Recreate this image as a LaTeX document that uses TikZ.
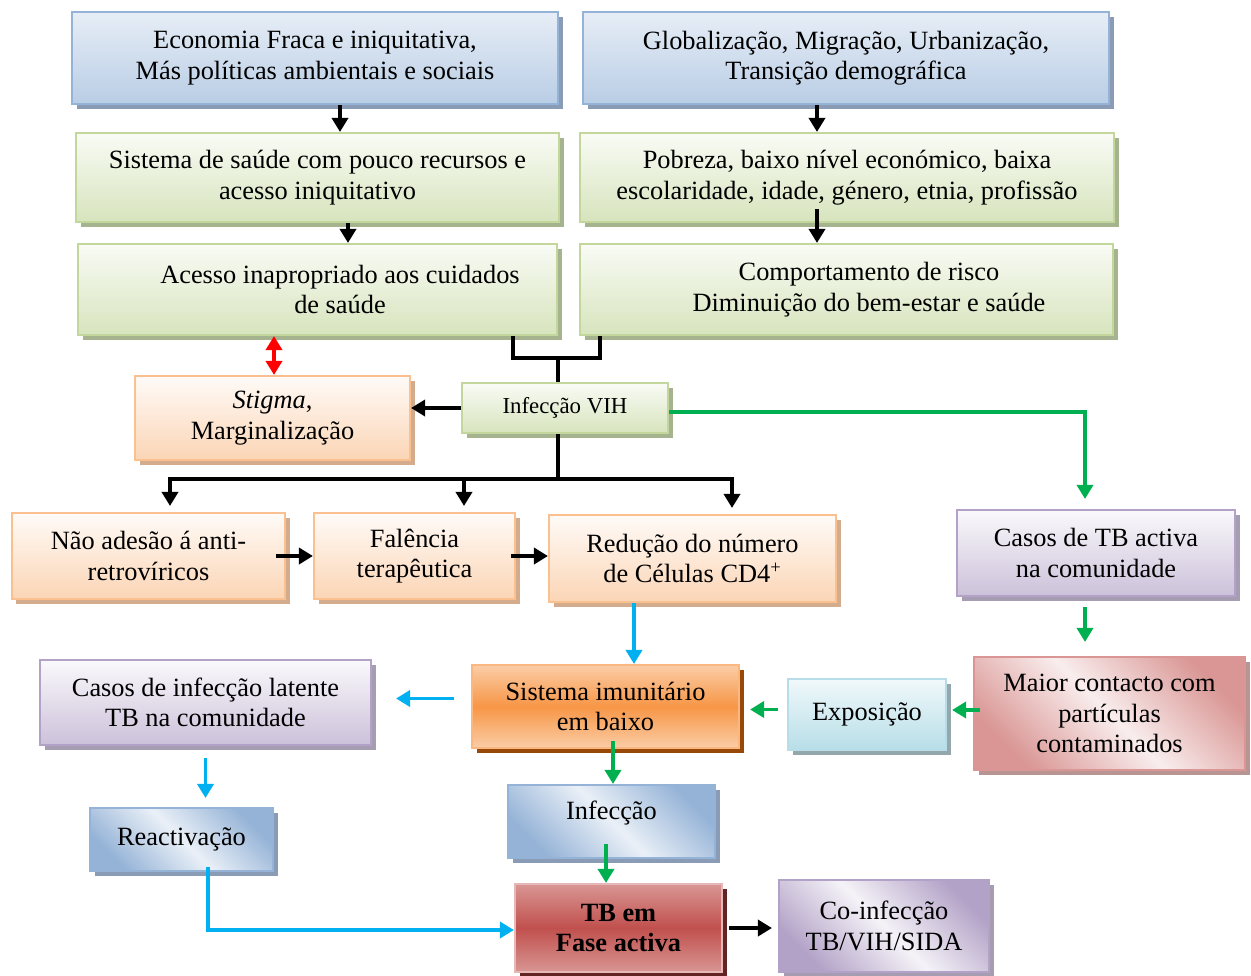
\documentclass[tikz,border=0pt]{standalone}
\usepackage{fontspec}
\setmainfont{Liberation Serif}
\usepackage{tikz}
\usetikzlibrary{arrows.meta,shadows,calc}

\definecolor{bluF}{HTML}{B9CDE5}
\definecolor{bluD}{HTML}{95B3D7}
\definecolor{bluS}{HTML}{8A9CB5}
\definecolor{greF}{HTML}{D7E4BD}
\definecolor{greD}{HTML}{C3D69B}
\definecolor{greS}{HTML}{A5B48E}
\definecolor{oraF}{HTML}{FBD5B5}
\definecolor{oraD}{HTML}{FAC090}
\definecolor{oraS}{HTML}{D2AC8C}
\definecolor{oraM}{HTML}{F79646}
\definecolor{oraB}{HTML}{984807}
\definecolor{purF}{HTML}{CCC1DA}
\definecolor{purD}{HTML}{B3A2C7}
\definecolor{purS}{HTML}{A69DB2}
\definecolor{pnkF}{HTML}{E6B9B8}
\definecolor{pnkD}{HTML}{D99694}
\definecolor{pnkS}{HTML}{B89493}
\definecolor{cyaF}{HTML}{B7DEE8}
\definecolor{cyaS}{HTML}{93A7AD}
\definecolor{redM}{HTML}{C0504D}
\definecolor{redB}{HTML}{632523}
\definecolor{arG}{HTML}{00B050}
\definecolor{arC}{HTML}{00B0F0}

\tikzset{
  box/.style={draw, line width=1.2pt, align=center, inner sep=2pt,
    font=\fontsize{15}{17.3}\selectfont},
  shad/.style={drop shadow={shadow xshift=.09cm, shadow yshift=-.09cm, fill=#1, opacity=1}},
  bluebox/.style={box, draw=bluD, top color=bluF!35!white, bottom color=bluF, shad=bluS},
  greenbox/.style={box, draw=greD, top color=greF!15!white, bottom color=greF, shad=greS},
  orangebox/.style={box, draw=oraD, top color=oraF!10!white, bottom color=oraF, shad=oraS},
  purplebox/.style={box, draw=purD, top color=purF!10!white, bottom color=purF, shad=purS},
  pinkbox/.style={box, draw=pnkD, left color=pnkD, right color=pnkD, middle color=pnkF!25!white,
    shading angle=135, shad=pnkS},
  cyanbox/.style={box, draw=cyaF, top color=cyaF!20!white, bottom color=cyaF, shad=cyaS},
  diagblue/.style={box, draw=bluD, left color=bluD, right color=bluD, middle color=bluF!30!white,
    shading angle=135, shad=bluS},
  diagpurple/.style={box, draw=purD, left color=purD, right color=purD, middle color=purF!20!white,
    shading angle=135, shad=purS},
  immunebox/.style={box, draw=oraD!80!oraM, top color=oraD!80!white, bottom color=oraD!80!white,
    middle color=oraM, shad=oraB},
  tbbox/.style={box, draw=pnkF, top color=pnkD, bottom color=pnkD, middle color=redM,
    shad=redB, font=\fontsize{15}{17.3}\selectfont\bfseries},
  tip/.style={-{Triangle[width=0.32cm,length=0.28cm]}},
  blk/.style={line width=2.2pt, black, tip},
  blkline/.style={line width=2.2pt, black},
  grn/.style={line width=2.2pt, arG, tip},
  cyn/.style={line width=2.2pt, arC, tip},
  redarrow/.style={line width=2.2pt, red, {Triangle[width=0.32cm,length=0.28cm]}-{Triangle[width=0.32cm,length=0.28cm]}},
}

\begin{document}
\begin{tikzpicture}
\useasboundingbox (0,0) rectangle (25.02,-19.5);

% causes
\node[bluebox, minimum width=9.72cm, minimum height=1.84cm] (eco) at (6.30,-1.16)
  {Economia Fraca e iniquitativa,\\ Más políticas ambientais e sociais};
\node[bluebox, minimum width=10.52cm, minimum height=1.84cm] (glob) at (16.92,-1.16)
  {Globalização, Migração, Urbanização,\\ Transição demográfica};
\node[greenbox, minimum width=9.66cm, minimum height=1.78cm] (sist) at (6.35,-3.55)
  {Sistema de saúde com pouco recursos e\\ acesso iniquitativo};
\node[greenbox, minimum width=10.68cm, minimum height=1.78cm] (pobr) at (16.94,-3.55)
  {Pobreza, baixo nível económico, baixa\\ escolaridade, idade, género, etnia, profissão};
\node[greenbox, minimum width=9.58cm, minimum height=1.82cm] (acesso) at (6.35,-5.79)
  {\hspace*{0.9cm}Acesso inapropriado aos cuidados\\ \hspace*{0.9cm}de saúde};
\node[greenbox, minimum width=10.66cm, minimum height=1.82cm] (comp) at (16.93,-5.79)
  {\hspace*{0.9cm}Comportamento de risco\\ \hspace*{0.9cm}Diminuição do bem-estar e saúde};

% VIH
\node[orangebox, minimum width=5.5cm, minimum height=1.68cm] (stigma) at (5.45,-8.36)
  {\textit{Stigma},\\ Marginalização};
\node[greenbox, minimum width=4.12cm, minimum height=1.0cm, font=\fontsize{13}{15}\selectfont] (infvih) at (11.30,-8.16)
  {Infecção VIH};
\node[orangebox, minimum width=5.46cm, minimum height=1.72cm] (nao) at (2.97,-11.12)
  {Não adesão á anti-\\ retrovíricos};
\node[orangebox, minimum width=4.02cm, minimum height=1.72cm] (fal) at (8.29,-11.12)
  {Falência\\ terapêutica};
\node[orangebox, minimum width=5.74cm, minimum height=1.74cm] (reduc) at (13.85,-11.17)
  {Redução do número\\ de Células CD4\textsuperscript{+}};

% TB
\node[purplebox, minimum width=5.56cm, minimum height=1.72cm] (casosTB) at (21.92,-11.06)
  {Casos de TB activa\\ na comunidade};
\node[pinkbox, minimum width=5.42cm, minimum height=2.26cm] (maior) at (22.19,-14.27)
  {Maior contacto com\\ partículas\\ contaminados};
\node[cyanbox, minimum width=3.16cm, minimum height=1.42cm] (expo) at (17.34,-14.29)
  {Exposição};
\node[immunebox, minimum width=5.34cm, minimum height=1.66cm] (sistim) at (12.11,-14.13)
  {Sistema imunitário\\ em baixo};
\node[purplebox, minimum width=6.62cm, minimum height=1.7cm] (latente) at (4.11,-14.05)
  {Casos de infecção latente\\ TB na comunidade};
\node[diagblue, minimum width=3.66cm, minimum height=1.26cm] (reac) at (3.63,-16.79)
  {Reactivação};
\node[diagblue, minimum width=4.14cm, minimum height=1.46cm, text depth=0.45cm] (infec) at (12.23,-16.43)
  {Infecção};
\node[tbbox, minimum width=4.14cm, minimum height=1.76cm] (tbem) at (12.37,-18.56)
  {TB em\\ Fase activa};
\node[diagpurple, minimum width=4.2cm, minimum height=1.84cm] (coinf) at (17.68,-18.52)
  {Co-infecção\\ TB/VIH/SIDA};

% black connectors
\draw[blk] ([xshift=0.5cm]eco.south) -- ([xshift=0.5cm]eco.south |- sist.north);
\draw[blk] ([xshift=-0.58cm]glob.south) -- ([xshift=-0.58cm]glob.south |- pobr.north);
\draw[blk] ([xshift=0.61cm]sist.south) -- ([xshift=0.61cm]sist.south |- acesso.north);
\draw[blk] ([xshift=-0.6cm,yshift=0.28cm]pobr.south) -- ([xshift=-0.6cm]pobr.south |- comp.north);
\coordinate (join) at (11.16,-7.16);
\draw[blkline] ([xshift=3.91cm]acesso.south) |- (join) -| ([xshift=-4.93cm]comp.south);
\draw[blkline] (join) -- (join |- infvih.north);
\draw[redarrow] ([xshift=-0.87cm]acesso.south) -- ([xshift=-0.87cm]acesso.south |- stigma.north);
\draw[blk] (infvih.west) -- (infvih.west -| stigma.east);
\coordinate (split) at (11.16,-9.58);
\draw[blkline] (split |- infvih.south) -- (split);
\draw[blk, shorten >=0.12cm] (split) -| ([xshift=0.43cm]nao.north);
\draw[blk, shorten >=0.12cm] (split) -| ([xshift=0.99cm]fal.north);
\draw[blk, shorten >=0.12cm] (split) -| ([xshift=0.79cm]reduc.north);
\draw[blk, shorten <=-0.2cm] (nao.east) -- (fal.west);
\draw[blk, shorten <=-0.1cm] (fal.east) -- (fal.east -| reduc.west);
\draw[blk, shorten <=0.12cm, shorten >=0.12cm] (tbem.east) -- (tbem.east -| coinf.west);

% green connectors
\draw[grn, shorten >=0.2cm] ([yshift=-0.08cm]infvih.east) -| ([xshift=-0.22cm]casosTB.north);
\draw[grn, shorten <=0.2cm, shorten >=0.28cm] ([xshift=-0.22cm]casosTB.south) -- ([xshift=-0.22cm]casosTB.south |- maior.north);
\draw[grn, shorten <=-0.14cm, shorten >=0.1cm] ([yshift=0.07cm]maior.west) -- ([yshift=0.07cm]maior.west -| expo.east);
\draw[grn, shorten <=0.18cm, shorten >=0.2cm] ([yshift=0.1cm]expo.west) -- ([yshift=0.1cm]expo.west -| sistim.east);
\draw[grn, shorten <=-0.16cm] ([xshift=0.15cm]sistim.south) -- ([xshift=0.15cm]sistim.south |- infec.north);
\draw[grn, shorten <=-0.3cm] ([xshift=-0.11cm]infec.south) -- ([xshift=-0.11cm]infec.south |- tbem.north);

% blue connectors
\draw[cyn] ([xshift=-1.17cm]reduc.south) -- ([xshift=-1.17cm]reduc.south |- sistim.north);
\draw[cyn, shorten <=0.34cm, shorten >=0.48cm] ([yshift=0.16cm]sistim.west) -- ([yshift=0.16cm]sistim.west -| latente.east);
\draw[cyn, shorten <=0.24cm, shorten >=0.18cm] (latente.south) -- (latente.south |- reac.north);
\draw[cyn, shorten <=-0.1cm] ([xshift=0.53cm]reac.south) |- ([yshift=-0.04cm]tbem.west);
\end{tikzpicture}
\end{document}
